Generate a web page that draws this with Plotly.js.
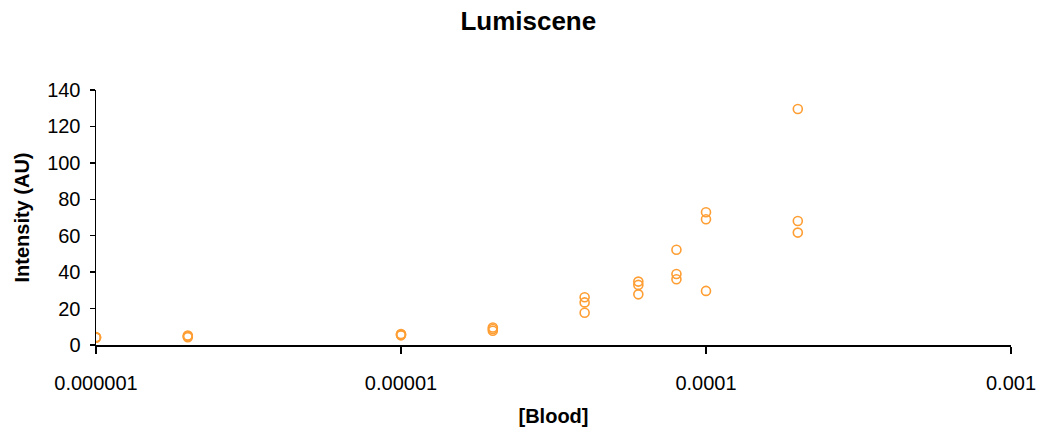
<!DOCTYPE html>
<html>
<head>
<meta charset="utf-8">
<script src="https://cdn.plot.ly/plotly-3.0.1.min.js"></script>
<style>html,body{margin:0;padding:0;background:#fff;}#chart{width:1042px;height:433px;}</style>
</head>
<body>
<div id="chart"></div>
<script>
const blood = [0.000001,0.000001,0.000001, 0.000002,0.000002,0.000002, 0.00001,0.00001,0.00001, 0.00002,0.00002,0.00002, 0.00004,0.00004,0.00004, 0.00006,0.00006,0.00006, 0.00008,0.00008,0.00008, 0.0001,0.0001,0.0001, 0.0002,0.0002,0.0002];
const intensity = [4.0,4.2,4.3, 4.3,4.8,5.2, 5.3,5.7,6.0, 7.8,8.8,9.6, 26.2,23.4,17.7, 34.8,33.0,27.8, 52.3,39.0,36.1, 72.9,69.0,29.7, 129.6,68.1,61.7];
const xTickVals = [0.000001, 0.00001, 0.0001, 0.001];
const xTickText = ["0.000001", "0.00001", "0.0001", "0.001"];
const yTickVals = [0,20,40,60,80,100,120,140];

const font = "'Liberation Sans', Arial, sans-serif";
Plotly.newPlot('chart', [{
  x: blood, y: intensity, type: 'scatter', mode: 'markers',
  marker: {symbol: 'circle-open', size: 9, color: '#FF9E33', line: {width: 1.6, color: '#FF9E33'}},
  showlegend: false, hoverinfo: 'x+y'
}], {
  width: 1042, height: 433,
  paper_bgcolor: '#fff', plot_bgcolor: '#fff',
  margin: {l: 96, r: 31, t: 90, b: 88},
  title: {text: '<b>Lumiscene</b>', x: 0.507, xref: 'container', y: 0.952, yref: 'container', xanchor: 'center', yanchor: 'middle',
          font: {family: font, size: 26, color: '#000'}},
  xaxis: {
    type: 'log', range: [-6, -3], tickvals: xTickVals, ticktext: xTickText,
    showgrid: false, zeroline: false, showline: true, linecolor: '#000', linewidth: 2,
    ticks: 'outside', ticklen: 7, tickwidth: 1.5, tickcolor: '#000',
    ticklabelstandoff: 12,
    tickfont: {family: font, size: 20, color: '#000'},
    title: {text: '<b>[Blood]</b>', font: {family: font, size: 20, color: '#000'}, standoff: 16}
  },
  yaxis: {
    range: [0, 140], tickvals: yTickVals, ticktext: yTickVals.map(String),
    showgrid: false, zeroline: false, showline: true, linecolor: '#000', linewidth: 1.5,
    ticks: 'outside', ticklen: 5, tickwidth: 1.5, tickcolor: '#000',
    ticklabelstandoff: 5,
    tickfont: {family: font, size: 20, color: '#000'},
    title: {text: '<b>Intensity (AU)</b>', font: {family: font, size: 20, color: '#000'}, standoff: 12}
  }
}, {displayModeBar: false, staticPlot: true});
</script>
</body>
</html>
